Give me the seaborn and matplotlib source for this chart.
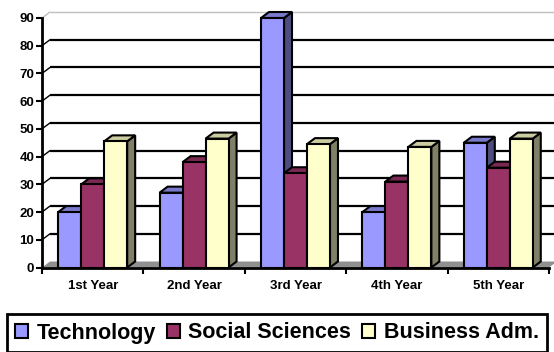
import matplotlib
matplotlib.use("Agg")
import matplotlib.pyplot as plt
import matplotlib.colors as mcolors
from matplotlib.patches import Polygon, Patch, Rectangle
import seaborn as sns
import pandas as pd
import numpy as np

# ---- data ----
years = ["1st Year", "2nd Year", "3rd Year", "4th Year", "5th Year"]
series_names = ["Technology", "Social Sciences", "Business Adm."]
technology = [20, 27, 90, 20, 45]
social_sciences = [30, 38, 34, 31, 36]
business_adm = [45.5, 46.5, 44.5, 43.5, 46.5]
colors = ["#9999FF", "#993366", "#FFFFCC"]
y_ticks = [0, 10, 20, 30, 40, 50, 60, 70, 80, 90]

sns.set_theme(style="white")
plt.rcParams["font.family"] = ["Liberation Sans", "DejaVu Sans"]
plt.rcParams["font.weight"] = "bold"
plt.rcParams["text.color"] = "black"
plt.rcParams["axes.labelcolor"] = "black"
plt.rcParams["xtick.color"] = "black"
plt.rcParams["ytick.color"] = "black"

df = pd.DataFrame({
    "Year": years * 3,
    "Field": [series_names[0]] * 5 + [series_names[1]] * 5 + [series_names[2]] * 5,
    "Value": technology + social_sciences + business_adm,
})

W, H = 554, 352
fig = plt.figure(figsize=(W / 100, H / 100), dpi=100)
ax = fig.add_axes([42 / W, (H - 267.5) / H, 507 / W, 249.5 / H])
ax.set_facecolor("white")

sns.barplot(data=df, x="Year", y="Value", hue="Field", order=years,
            hue_order=series_names, palette=colors, width=0.68,
            saturation=1, edgecolor="black", linewidth=1.5, ax=ax,
            legend=False)

ax.set_xlim(-0.5, len(years) - 0.5)
ax.set_ylim(y_ticks[0], y_ticks[-1])

# depth offset (pixels -> data units)
p0 = ax.transData.transform((0, 0))
p1 = ax.transData.transform((1, 1))
DX = 8 / (p1[0] - p0[0])
DY = 6 / (p1[1] - p0[1])
x0, x1 = ax.get_xlim()

# floor
ax.add_patch(Polygon([(x0, 0), (x1, 0), (x1 + DX, DY), (x0 + DX, DY)],
                     closed=True, facecolor="#909090", edgecolor="none",
                     zorder=0.5, clip_on=False))

# back wall gridlines + left wall diagonals
for v in y_ticks[1:]:
    top = v == y_ticks[-1]
    col = "#c0c0c0" if top else "black"
    lw = 1.0 if top else 1.6
    ax.plot([x0 + DX, x1 + DX], [v + DY, v + DY], color=col, lw=lw,
            zorder=0.8, clip_on=False, solid_capstyle="butt")
    ax.plot([x0, x0 + DX], [v, v + DY], color=col if top else "black",
            lw=1.0, zorder=0.8, clip_on=False)

# 3D faces for bars
bars = [p for p in ax.patches if isinstance(p, Rectangle) and p.get_width() > 0
        and p.get_height() != 0]
bars.sort(key=lambda p: p.get_x())
for i, b in enumerate(bars):
    bx, w, h = b.get_x(), b.get_width(), b.get_height()
    fc = np.array(mcolors.to_rgb(b.get_facecolor()))
    z = 2 + i * 0.05
    b.set_zorder(z + 0.02)
    b.set_clip_on(False)
    side = Polygon([(bx + w, 0), (bx + w, h), (bx + w + DX, h + DY), (bx + w + DX, DY)],
                   closed=True, facecolor=fc * 0.5, edgecolor="black", lw=1.5,
                   zorder=z, clip_on=False, joinstyle="miter")
    topf = Polygon([(bx, h), (bx + w, h), (bx + w + DX, h + DY), (bx + DX, h + DY)],
                   closed=True, facecolor=fc * 0.8, edgecolor="black", lw=1.5,
                   zorder=z, clip_on=False, joinstyle="miter")
    ax.add_patch(side)
    ax.add_patch(topf)

# axes styling
for s in ["top", "right"]:
    ax.spines[s].set_visible(False)
for s in ["left", "bottom"]:
    ax.spines[s].set_color("black")
    ax.spines[s].set_linewidth(2)
    ax.spines[s].set_zorder(10)

ax.set_yticks(y_ticks)
ax.set_yticklabels([str(t) for t in y_ticks])
ax.tick_params(axis="y", direction="out", length=4, width=1.5, color="black",
               labelsize=9.5, pad=1.5, labelcolor="black", left=True)
ax.set_xticks(np.arange(x0, x1 + 0.01, 1), minor=True)
ax.tick_params(axis="x", which="minor", direction="out", length=4, width=1.5,
               color="black", bottom=True)
ax.tick_params(axis="x", which="major", length=0, pad=9, labelsize=9.5,
               labelcolor="black")
for lab in ax.get_xticklabels() + ax.get_yticklabels():
    lab.set_fontweight("bold")
ax.set_xlabel("")
ax.set_ylabel("")
ax.grid(False)

handles = [Patch(facecolor=c, edgecolor="black", linewidth=1.5) for c in colors]
leg = fig.legend(handles, series_names, loc="center",
                 bbox_to_anchor=(277 / W, 1 - 333 / H), ncol=3, fontsize=15.5,
                 frameon=True, fancybox=False, edgecolor="black", framealpha=1,
                 handlelength=0.6, handleheight=0.6, handletextpad=0.4,
                 columnspacing=0.5, borderpad=0.4, borderaxespad=0)
leg.get_frame().set_linewidth(2)
for t in leg.get_texts():
    t.set_fontweight("bold")
    t.set_color("black")

fig.savefig("out.png", dpi=100)
